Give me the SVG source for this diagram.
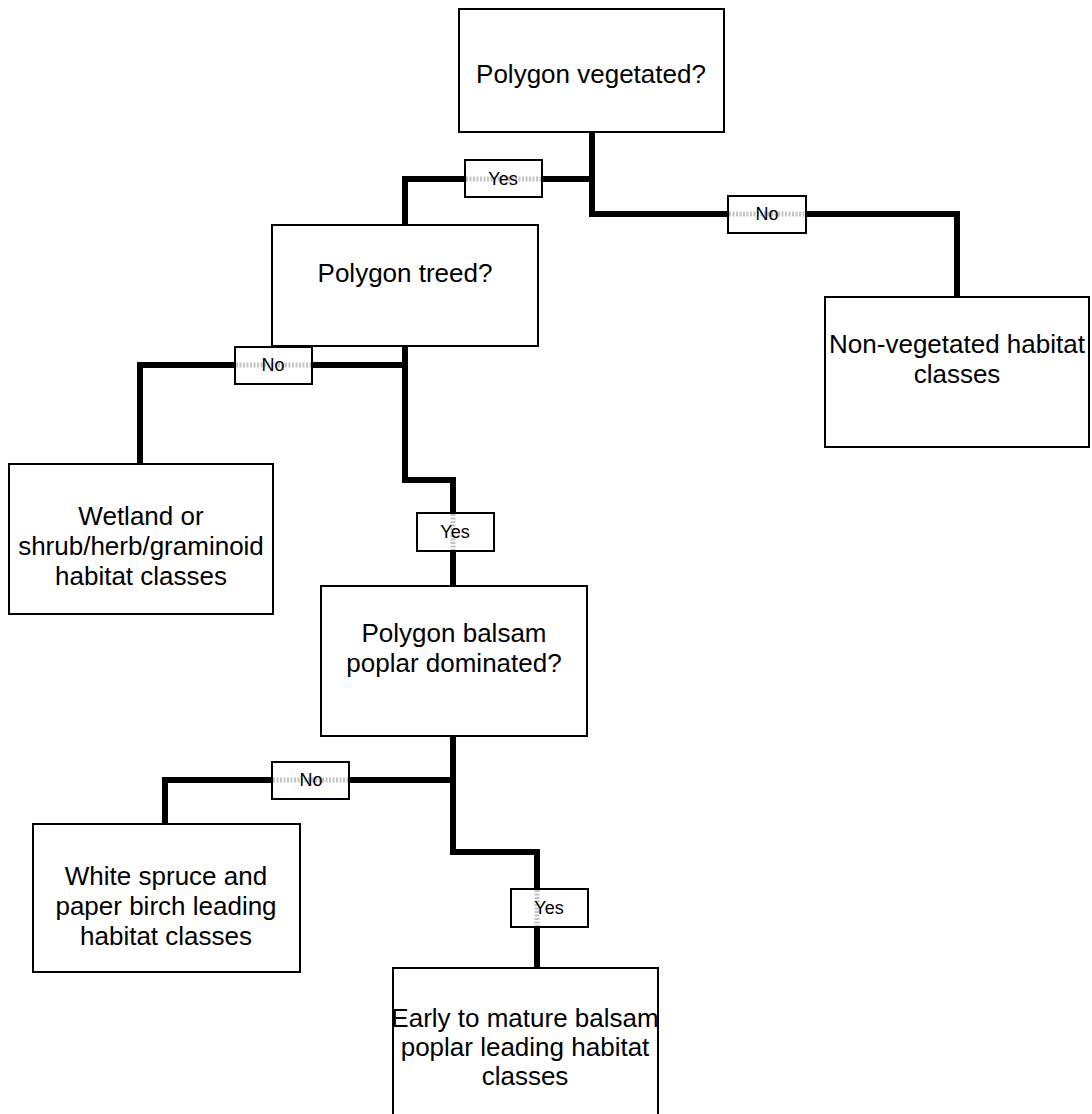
<svg xmlns="http://www.w3.org/2000/svg" width="1092" height="1114" viewBox="0 0 1092 1114">
<style>
.node rect{fill:#fff;stroke:#000;stroke-width:2}
.node text{font-family:"Liberation Sans",Arial,sans-serif;font-size:26px;fill:#000;text-anchor:middle}
.conn{fill:none;stroke:#000;stroke-width:6;stroke-linejoin:miter;stroke-linecap:butt}
.lbl rect{fill:#fff;stroke:#000;stroke-width:2}
.lbl line{stroke:#c4c4c4;stroke-width:5;stroke-dasharray:2 1.5}
.lbl text{font-family:"Liberation Sans",Arial,sans-serif;font-size:18px;fill:#000;text-anchor:middle}
</style>
<rect width="1092" height="1114" fill="#fff"/>
<g id="connectors">
<path class="conn" d="M592,132 V214 H957 V297"/>
<path class="conn" d="M592,179 H405 V225"/>
<path class="conn" d="M405,346 V480 H453 V586"/>
<path class="conn" d="M405,365 H140 V464"/>
<path class="conn" d="M453,736 V852 H537 V968"/>
<path class="conn" d="M453,780 H165 V824"/>
</g>
<g id="node-vegetated" class="node">
<rect x="459" y="9" width="265" height="123"/>
<text x="591" y="83">Polygon vegetated?</text>
</g>
<g id="node-treed" class="node">
<rect x="272" y="225" width="266" height="121"/>
<text x="405" y="282">Polygon treed?</text>
</g>
<g id="node-nonveg" class="node">
<rect x="825" y="297" width="264" height="150"/>
<text x="957" y="353">Non-vegetated habitat</text>
<text x="957" y="383">classes</text>
</g>
<g id="node-wetland" class="node">
<rect x="9" y="464" width="264" height="150"/>
<text x="141" y="525">Wetland or</text>
<text x="141" y="555">shrub/herb/graminoid</text>
<text x="141" y="585">habitat classes</text>
</g>
<g id="node-balsam" class="node">
<rect x="321" y="586" width="266" height="150"/>
<text x="454" y="642">Polygon balsam</text>
<text x="454" y="672">poplar dominated?</text>
</g>
<g id="node-spruce" class="node">
<rect x="33" y="824" width="267" height="148"/>
<text x="166" y="885">White spruce and</text>
<text x="166" y="915">paper birch leading</text>
<text x="166" y="945">habitat classes</text>
</g>
<g id="node-early" class="node">
<rect x="393" y="968" width="265" height="152"/>
<text x="525" y="1027">Early to mature balsam</text>
<text x="525" y="1056">poplar leading habitat</text>
<text x="525" y="1085">classes</text>
</g>
<g id="labels">
<g id="label-yes1" class="lbl">
<rect x="465" y="160" width="77" height="37"/>
<line x1="466" y1="179" x2="541" y2="179"/>
<text x="503" y="185">Yes</text>
</g>
<g id="label-no1" class="lbl">
<rect x="728" y="196" width="78" height="37"/>
<line x1="729" y1="214" x2="805" y2="214"/>
<text x="767" y="220">No</text>
</g>
<g id="label-no2" class="lbl">
<rect x="235" y="347" width="77" height="37"/>
<line x1="236" y1="365" x2="311" y2="365"/>
<text x="273" y="371">No</text>
</g>
<g id="label-yes2" class="lbl">
<rect x="417" y="513" width="77" height="38"/>
<line x1="453" y1="514" x2="453" y2="550"/>
<text x="455" y="538">Yes</text>
</g>
<g id="label-no3" class="lbl">
<rect x="272" y="762" width="77" height="37"/>
<line x1="273" y1="780" x2="348" y2="780"/>
<text x="311" y="786">No</text>
</g>
<g id="label-yes3" class="lbl">
<rect x="511" y="889" width="77" height="38"/>
<line x1="537" y1="890" x2="537" y2="926"/>
<text x="549" y="914">Yes</text>
</g>
</g>
</svg>
